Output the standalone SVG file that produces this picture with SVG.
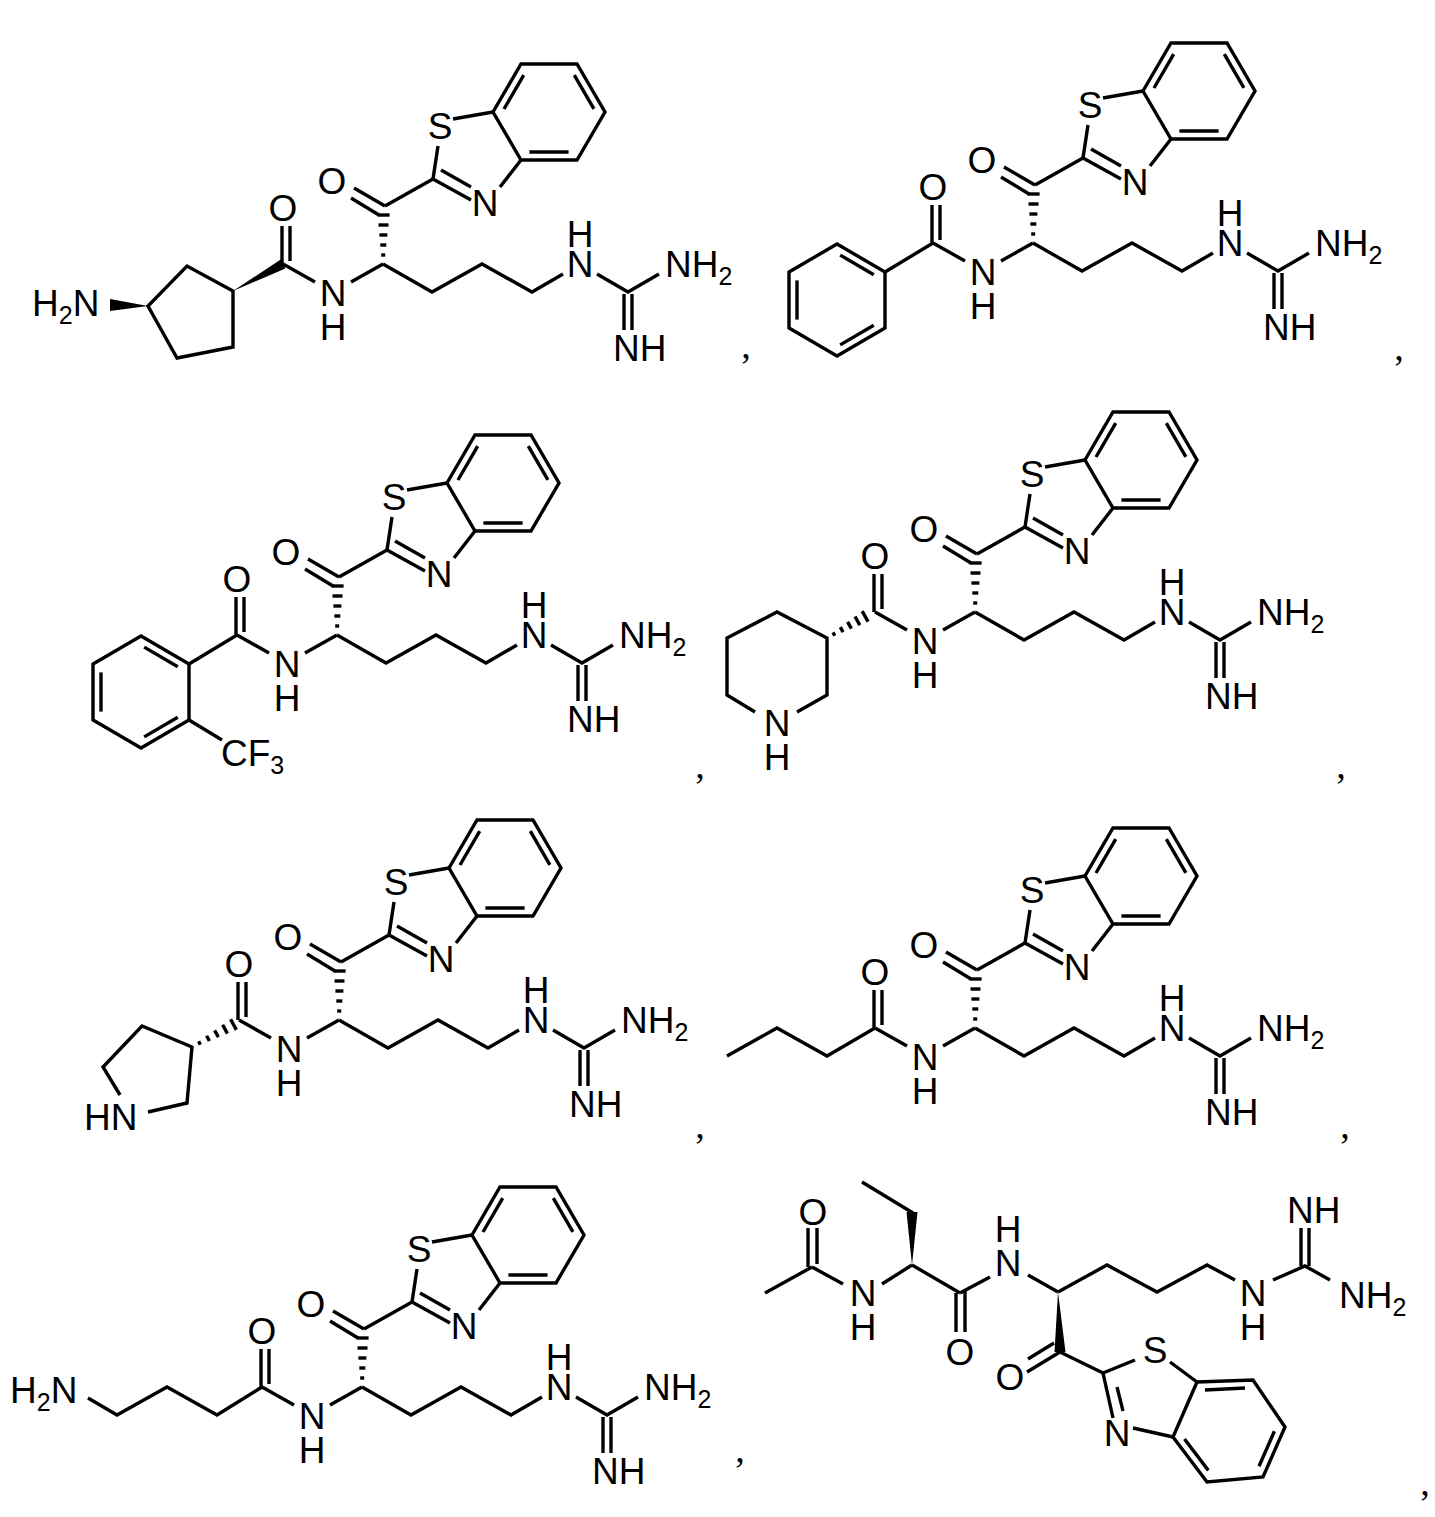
<svg xmlns="http://www.w3.org/2000/svg" xmlns:xlink="http://www.w3.org/1999/xlink" width="1435" height="1517" viewBox="0 0 1435 1517">
<style>
line,polyline,polygon.r{stroke:#000;stroke-width:3.4;fill:none;stroke-linecap:butt;stroke-linejoin:miter}
polygon.w{fill:#000;stroke:none}
text{font-family:"Liberation Sans",Arial,sans-serif;font-size:37px;fill:#000}
text.m{text-anchor:middle}
text.c{font-family:"Liberation Serif","Times New Roman",serif;font-size:38px;text-anchor:middle}
tspan.s{font-size:25px}
</style>
<defs>
<g id="core">
<line x1="-101" y1="0" x2="-101" y2="-38"/><line x1="-93" y1="-3" x2="-93" y2="-38"/>
<line x1="-100" y1="0" x2="-68" y2="18"/><line x1="-32" y1="18" x2="0" y2="0"/>
<line x1="-1.8" y1="-9" x2="2.2" y2="-9"/><line x1="-2.7" y1="-19" x2="3.3" y2="-19"/><line x1="-3.6" y1="-29" x2="4.4" y2="-29"/><line x1="-4.5" y1="-39" x2="5.5" y2="-39"/><line x1="-5.4" y1="-49" x2="6.6" y2="-49"/>
<line x1="2" y1="-58" x2="-29" y2="-76"/><line x1="-4" y1="-49" x2="-32" y2="-66"/>
<line x1="2" y1="-58" x2="50" y2="-85"/>
<line x1="50" y1="-85" x2="55" y2="-118"/>
<line x1="70" y1="-145" x2="110" y2="-152"/>
<line x1="50" y1="-85" x2="88" y2="-64"/><line x1="58" y1="-94" x2="88" y2="-77"/>
<line x1="117" y1="-77" x2="138" y2="-104"/>
<polygon class="r" points="110,-152 138,-200 194,-200 222,-152 194,-104 138,-104"/>
<line x1="121" y1="-155" x2="140.7" y2="-188.8"/><line x1="191.3" y1="-188.8" x2="210.9" y2="-155.2"/><line x1="146.4" y1="-112" x2="185.6" y2="-112"/>
<polyline points="0,0 49,28 99,0 149,28 180,10"/>
<polyline points="214,10 245,28 276,10"/>
<line x1="241" y1="30" x2="241" y2="66"/><line x1="249" y1="30" x2="249" y2="66"/>
<text class="m" x="-100" y="-43">O</text>
<text class="m" x="-50" y="42">N</text><text class="m" x="-50" y="76">H</text>
<text class="m" x="-51" y="-70">O</text>
<text class="m" x="57" y="-125">S</text>
<text class="m" x="102" y="-48">N</text>
<text class="m" x="197" y="13">N</text><text class="m" x="197" y="-17">H</text>
<text x="282" y="13">NH<tspan class="s" dy="8">2</tspan></text>
<text x="230" y="97">NH</text>
</g>
</defs>

<g id="mol1">
<use xlink:href="#core" href="#core" transform="translate(383,264)"/>
<polygon class="r" points="233,291 187,266 148,306 177,358 233,347"/>
<polygon class="w" points="233,291 280.6,259.6 285.4,268.4"/>
<polygon class="w" points="148,306 110,299 110,311"/>
<text x="32" y="316">H<tspan class="s" dy="8">2</tspan><tspan dy="-8">N</tspan></text>
<text class="c" x="746" y="358">,</text>
</g>

<g id="mol2">
<use xlink:href="#core" href="#core" transform="translate(1033,243)"/>
<polygon class="r" points="837,244 885,272 885,328 837,356 789,328 789,272"/>
<line x1="840.2" y1="255.1" x2="873.8" y2="274.7"/><line x1="797" y1="280.4" x2="797" y2="319.6"/><line x1="873.8" y1="325.3" x2="840.2" y2="344.9"/>
<line x1="885" y1="272" x2="933" y2="243"/>
<text class="c" x="1399" y="360">,</text>
</g>

<g id="mol3">
<use xlink:href="#core" href="#core" transform="translate(337,635)"/>
<polygon class="r" points="141,636 189,664 189,720 141,748 93,720 93,664"/>
<line x1="144.2" y1="647.1" x2="177.8" y2="666.7"/><line x1="101" y1="672.4" x2="101" y2="711.6"/><line x1="177.8" y1="717.3" x2="144.2" y2="736.9"/>
<line x1="189" y1="664" x2="237" y2="635"/>
<line x1="189" y1="720" x2="222" y2="740"/>
<text x="221" y="766">CF<tspan class="s" dy="8">3</tspan></text>
<text class="c" x="700" y="778">,</text>
</g>

<g id="mol4">
<use xlink:href="#core" href="#core" transform="translate(975,612)"/>
<line x1="833" y1="632.4" x2="834.8" y2="635.8"/><line x1="840.3" y1="627.2" x2="843.1" y2="632.2"/><line x1="847.6" y1="621.9" x2="851.4" y2="628.7"/><line x1="855" y1="616.5" x2="859.8" y2="625.1"/><line x1="862.2" y1="611.2" x2="868.1" y2="621.6"/>
<polyline points="755,712 727,695 727,638 777,612 827,638 827,695 797,712"/>
<text class="m" x="777" y="736">N</text><text class="m" x="777" y="770">H</text>
<text class="c" x="1341" y="778">,</text>
</g>

<g id="mol5">
<use xlink:href="#core" href="#core" transform="translate(339,1020)"/>
<line x1="198.6" y1="1041.3" x2="200.4" y2="1044.7"/><line x1="206.6" y1="1035.8" x2="209.4" y2="1041"/><line x1="214.6" y1="1030.4" x2="218.4" y2="1037.2"/><line x1="222.6" y1="1024.8" x2="227.4" y2="1033.6"/><line x1="230.6" y1="1019.3" x2="236.4" y2="1029.9"/>
<polyline points="120,1095 103,1067 142,1026 192,1047 187,1103 148,1112"/>
<text x="84" y="1130">HN</text>
<text class="c" x="700" y="1138">,</text>
</g>

<g id="mol6">
<use xlink:href="#core" href="#core" transform="translate(975,1028)"/>
<polyline points="875,1028 827,1056 777,1028 727,1056"/>
<text class="c" x="1345" y="1138">,</text>
</g>

<g id="mol7">
<use xlink:href="#core" href="#core" transform="translate(362,1387)"/>
<polyline points="88,1398 117,1415 167,1387 217,1415 262,1387"/>
<text x="10" y="1403">H<tspan class="s" dy="8">2</tspan><tspan dy="-8">N</tspan></text>
<text class="c" x="740" y="1462">,</text>
</g>

<g id="mol8">
<line x1="765" y1="1293" x2="812" y2="1267"/>
<line x1="808" y1="1267" x2="808" y2="1228"/><line x1="817" y1="1264" x2="817" y2="1228"/>
<line x1="812" y1="1267" x2="843" y2="1284"/>
<line x1="882" y1="1284" x2="912" y2="1265"/>
<polygon class="w" points="912,1265 906.5,1212 917.5,1212"/>
<line x1="913" y1="1213" x2="862" y2="1182"/>
<line x1="912" y1="1265" x2="960" y2="1293"/>
<line x1="956" y1="1293" x2="956" y2="1332"/><line x1="965" y1="1290" x2="965" y2="1332"/>
<line x1="960" y1="1293" x2="990" y2="1277"/>
<line x1="1028" y1="1275" x2="1058" y2="1292"/>
<polygon class="w" points="1058,1292 1054.5,1352 1065.5,1352"/>
<polyline points="1058,1292 1107,1265 1157,1292 1207,1265 1235,1280"/>
<polyline points="1273,1280 1305,1266 1330,1280"/>
<line x1="1301" y1="1266" x2="1301" y2="1228"/><line x1="1309" y1="1266" x2="1309" y2="1228"/>
<line x1="1060" y1="1352" x2="1027" y2="1372"/><line x1="1054" y1="1343" x2="1028" y2="1359"/>
<line x1="1060" y1="1352" x2="1103" y2="1373"/>
<line x1="1103" y1="1373" x2="1135" y2="1360"/>
<line x1="1170" y1="1362" x2="1197" y2="1382"/>
<line x1="1103" y1="1373" x2="1113" y2="1418"/><line x1="1117" y1="1387" x2="1123" y2="1411"/>
<line x1="1133" y1="1428" x2="1173" y2="1437"/>
<polygon class="r" points="1197,1382 1253,1380 1285,1427 1263,1477 1207,1482 1173,1437"/>
<line x1="1205" y1="1390" x2="1245" y2="1388"/><line x1="1274.4" y1="1431.3" x2="1259" y2="1466.3"/><line x1="1208.3" y1="1470.4" x2="1184.5" y2="1439"/>
<text class="m" x="813" y="1225">O</text>
<text class="m" x="863" y="1306">N</text><text class="m" x="863" y="1340">H</text>
<text class="m" x="960" y="1365">O</text>
<text class="m" x="1008" y="1276">N</text><text class="m" x="1008" y="1242">H</text>
<text class="m" x="1253" y="1306">N</text><text class="m" x="1253" y="1340">H</text>
<text x="1339" y="1308">NH<tspan class="s" dy="8">2</tspan></text>
<text x="1287" y="1223">NH</text>
<text class="m" x="1010" y="1390">O</text>
<text class="m" x="1155" y="1363">S</text>
<text class="m" x="1117" y="1446">N</text>
<text class="c" x="1425" y="1495">,</text>
</g>
</svg>
